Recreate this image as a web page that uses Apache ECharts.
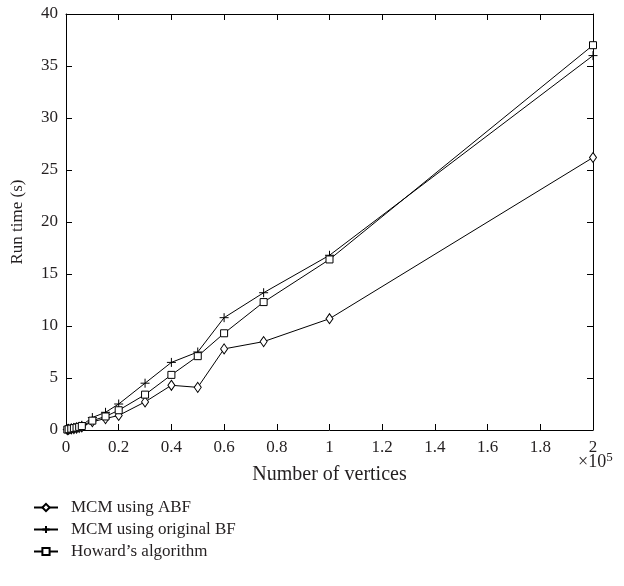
<!DOCTYPE html>
<html>
<head>
<meta charset="utf-8">
<script src="https://cdn.jsdelivr.net/npm/echarts@6/dist/echarts.min.js"></script>
<style>html,body{margin:0;padding:0;background:#fff}#c{width:624px;height:586px}</style>
</head>
<body>
<div id="c"></div>
<script>
const vertices = [500, 1000, 2000, 3000, 4000, 5000, 6000, 10000, 15000, 20000, 30000, 40000, 50000, 60000, 75000, 100000, 200000];
const abf      = [0.03, 0.06, 0.1, 0.14, 0.18, 0.24, 0.3, 0.8, 1.1, 1.4, 2.7, 4.3, 4.1, 7.8, 8.5, 10.7, 26.2];
const origBF   = [0.05, 0.1, 0.16, 0.22, 0.28, 0.35, 0.45, 1.2, 1.7, 2.5, 4.5, 6.5, 7.5, 10.8, 13.2, 16.8, 36.0];
const howard   = [0.04, 0.08, 0.13, 0.18, 0.23, 0.3, 0.38, 0.9, 1.3, 1.9, 3.4, 5.3, 7.1, 9.3, 12.3, 16.4, 37.0];
const seriesNames = ['MCM using ABF', 'MCM using original BF', 'Howard\u2019s algorithm'];
const xTickValues = [0, 20000, 40000, 60000, 80000, 100000, 120000, 140000, 160000, 180000, 200000];
const xTickLabels = ['0', '0.2', '0.4', '0.6', '0.8', '1', '1.2', '1.4', '1.6', '1.8', '2'];
const yTickLabels = ['0', '5', '10', '15', '20', '25', '30', '35', '40'];

const FONT = 'Liberation Serif';
const TXT = '#231f20';
const chart = echarts.init(document.getElementById('c'), null, {renderer: 'canvas'});
const pts = arr => arr.map((v, i) => [vertices[i], v]);
const plusPath = 'path://M0,5L10,5M5,0L5,10';
const mk = (name, data, symbol, size) => ({
  name, type: 'line', data: pts(data), symbol, symbolSize: size,
  lineStyle: {color: '#000', width: 1},
  itemStyle: {color: '#fff', borderColor: '#000', borderWidth: 1},
  emphasis: {disabled: true}, animation: false
});
const axisCommon = {
  axisLine: {show: true, onZero: false, lineStyle: {color: '#000', width: 1}},
  axisTick: {show: true, inside: true, length: 6, lineStyle: {color: '#000'}},
  splitLine: {show: false}
};
chart.setOption({
  animation: false,
  textStyle: {fontFamily: FONT, color: TXT},
  grid: {left: 66, right: 31, top: 14, bottom: 156, containLabel: false},
  legend: {
    orient: 'vertical', left: 28, top: 494, itemGap: 5, itemWidth: 24, itemHeight: 9,
    data: seriesNames,
    textStyle: {fontFamily: FONT, fontSize: 17, color: TXT, padding: [0, 0, 0, 8]},
    selectedMode: false
  },
  xAxis: [
    Object.assign({
      type: 'value', min: 0, max: 200000, interval: 20000, position: 'bottom',
      name: 'Number of vertices', nameLocation: 'middle', nameGap: 35,
      nameTextStyle: {fontFamily: FONT, fontSize: 20, color: TXT},
      axisLabel: {fontFamily: FONT, fontSize: 17, color: TXT, margin: 9,
        formatter: v => { const i = xTickValues.indexOf(v); return i >= 0 ? xTickLabels[i] : ''; }}
    }, axisCommon),
    Object.assign({
      type: 'value', min: 0, max: 200000, interval: 20000, position: 'top',
      axisLabel: {show: false}
    }, axisCommon)
  ],
  yAxis: [
    Object.assign({
      type: 'value', min: 0, max: 40, interval: 5, position: 'left',
      name: 'Run time (s)', nameLocation: 'middle', nameGap: 40, nameRotate: 90,
      nameTextStyle: {fontFamily: FONT, fontSize: 17, color: TXT},
      axisLabel: {fontFamily: FONT, fontSize: 17, color: TXT, margin: 8,
        formatter: v => yTickLabels[Math.round(v / 5)] || ''}
    }, axisCommon),
    Object.assign({
      type: 'value', min: 0, max: 40, interval: 5, position: 'right',
      axisLabel: {show: false}
    }, axisCommon)
  ],
  graphic: [{
    type: 'text', left: 578, top: 451,
    style: {
      text: '\u00d710{s|5}', fontFamily: FONT, fontSize: 18, fill: TXT,
      rich: {s: {fontFamily: FONT, fontSize: 13, fill: TXT, verticalAlign: 'top', padding: [0, 0, 9, 0]}}
    }
  }],
  series: [
    mk(seriesNames[0], abf, 'diamond', [7, 10]),
    mk(seriesNames[1], origBF, plusPath, 9),
    mk(seriesNames[2], howard, 'rect', 7)
  ]
});
</script>
</body>
</html>
